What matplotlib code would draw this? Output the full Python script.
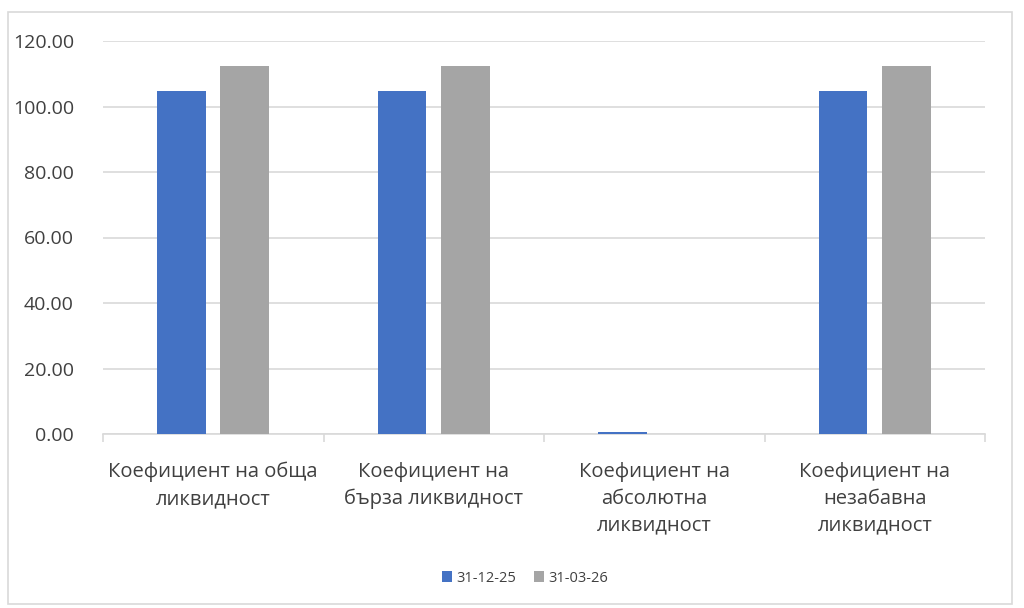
import numpy as np
import matplotlib.pyplot as plt
from matplotlib.patches import Rectangle, Patch

categories = ['Коефициент на обща\nликвидност', 'Коефициент на\nбърза ликвидност',
              'Коефициент на\nабсолютна\nликвидност', 'Коефициент на\nнезабавна\nликвидност']
series_names = ['31-12-25', '31-03-26']
values_dec = [104.8, 104.8, 0.6, 104.6]
values_mar = [112.5, 112.5, 0.0, 112.3]
yticks = [0, 20, 40, 60, 80, 100, 120]

plt.rcParams['font.family'] = ['Open Sans', 'DejaVu Sans']

fig = plt.figure(figsize=(10.24, 6.08), dpi=100)
fig.patches.append(Rectangle((8 / 1024, 4 / 608), 1004 / 1024, 592 / 608, transform=fig.transFigure,
                             facecolor='none', edgecolor='#D9D9D9', linewidth=1.2))
ax = fig.add_axes([103 / 1024, 1 - 434 / 608, 882 / 1024, 393 / 608])

x = np.arange(len(categories))
w = 0.222
ax.bar(x - 0.144, values_dec, w, color='#4472C4', zorder=3)
ax.bar(x + 0.142, values_mar, w, color='#A5A5A5', zorder=3)

ax.set_xlim(-0.5, len(categories) - 0.5)
ax.set_ylim(0, 120)
ax.set_yticks(yticks)
ax.set_yticklabels([f'{v:.2f}' for v in yticks], fontsize=14, color='#404040')
ax.yaxis.grid(True, color='#D9D9D9', linewidth=1.2)
ax.tick_params(axis='y', length=0, pad=21)

ax.set_xticks(x)
ax.set_xticklabels(categories, fontsize=14.5, color='#404040', linespacing=1.45, va='top')
ax.tick_params(axis='x', which='major', length=0, pad=20)
ax.set_xticks(np.arange(-0.5, len(categories), 1), minor=True)
ax.tick_params(axis='x', which='minor', length=6, color='#D9D9D9', width=1.2)

for s in ['top', 'right', 'left']:
    ax.spines[s].set_visible(False)
ax.spines['bottom'].set_color('#D9D9D9')
ax.spines['bottom'].set_linewidth(1.2)

handles = [Patch(facecolor='#4472C4', label=series_names[0]),
           Patch(facecolor='#A5A5A5', label=series_names[1])]
fig.legend(handles=handles, loc='center', bbox_to_anchor=(0.513, 1 - 578 / 608), ncol=2,
           frameon=False, fontsize=10.5, handlelength=0.7, handleheight=0.7,
           handletextpad=0.3, columnspacing=1.2, labelcolor='#404040')

fig.savefig('out.png', dpi=100)
